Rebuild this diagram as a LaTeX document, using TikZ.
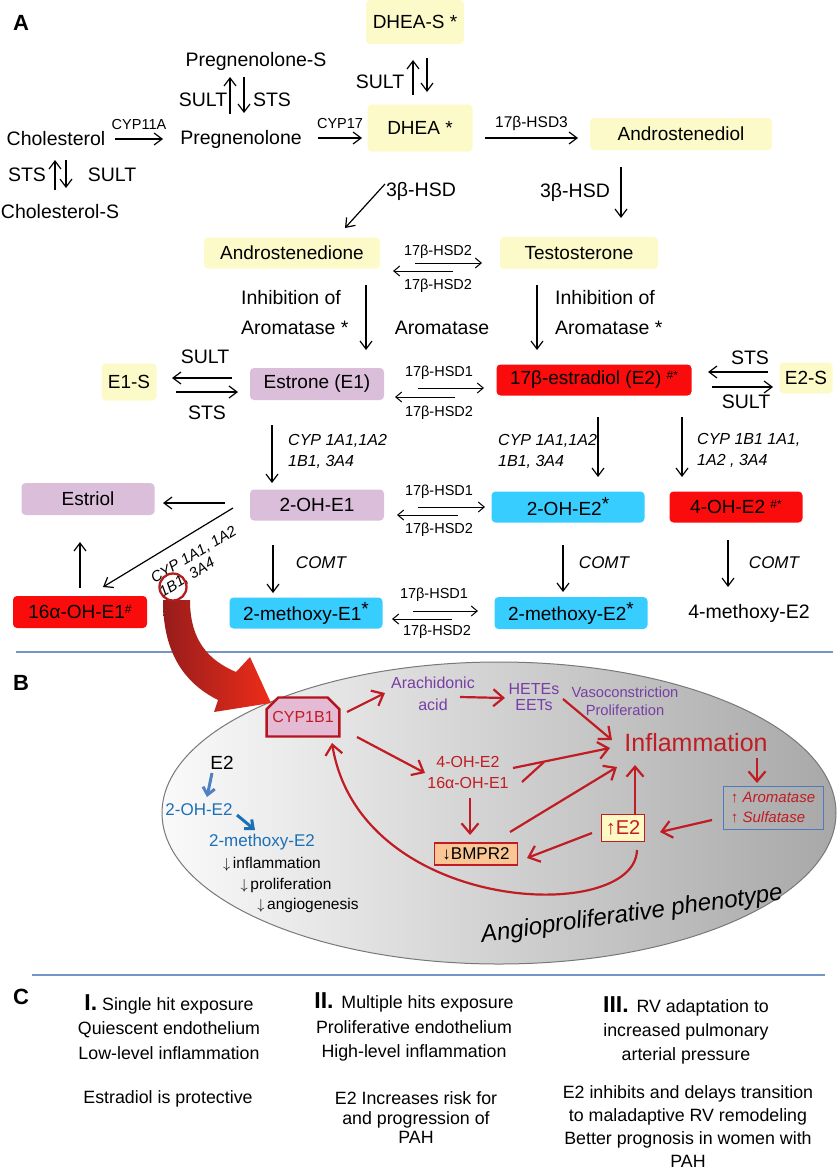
\documentclass[tikz,border=0pt]{standalone}
\usepackage{fontspec}
\setmainfont{Liberation Sans}
\usetikzlibrary{arrows.meta}
\usetikzlibrary{positioning}
\usetikzlibrary{shapes.misc}

\definecolor{ylw}{RGB}{252,250,200}
\definecolor{lav}{RGB}{218,190,218}
\definecolor{redbox}{RGB}{250,12,12}
\definecolor{cyanbox}{RGB}{55,205,255}
\definecolor{sepblue}{RGB}{115,150,195}
\definecolor{rdark}{RGB}{192,28,36}
\definecolor{ringred}{RGB}{178,30,30}
\definecolor{purp}{RGB}{120,62,165}
\definecolor{bltxt}{RGB}{28,112,182}
\definecolor{blarr}{RGB}{80,130,195}
\definecolor{cypfill}{RGB}{228,186,212}
\definecolor{cypred}{RGB}{180,20,30}
\definecolor{bmpfill}{RGB}{250,198,150}
\definecolor{e2fill}{RGB}{255,250,196}
\definecolor{arombox}{RGB}{80,122,190}
\definecolor{ellleft}{RGB}{250,250,250}
\definecolor{ellright}{RGB}{168,168,168}
\definecolor{ellgray}{RGB}{120,120,120}
\definecolor{bigdark}{RGB}{150,28,28}
\definecolor{bigbright}{RGB}{238,45,25}

\newcommand\fsz[2]{\fontsize{#1}{#2}\selectfont}
\newcommand\rnum[1]{{\fsz{23}{23}\bfseries #1}}
\newcommand\supm[1]{\raisebox{5pt}{\fsz{12}{12}#1}}

\begin{document}
\begin{tikzpicture}[x=1pt,y=-1pt,>={Straight Barb[length=8pt,width=12pt]}]
\tikzset{molbox/.style = {rounded corners=4pt, inner sep=0pt, font=\fsz{19}{23}},
  ybox/.style = {molbox, fill=ylw},
  pbox/.style = {molbox, fill=lav},
  rbox/.style = {molbox, fill=redbox},
  cbox/.style = {molbox, fill=cyanbox},
  txt/.style = {inner sep=0pt, font=\fsz{19.5}{30}, align=left},
  lbl/.style = {inner sep=0pt, font=\fsz{14.5}{17}},
  enz/.style = {inner sep=0pt, font=\fsz{16}{21}\itshape, align=left},
  panel/.style = {inner sep=0pt, font=\fsz{22}{22}\bfseries},
  arr/.style = {->, line width=1.2pt},
  harr/.style = {->, line width=1pt, >={Straight Barb[length=6pt,width=10pt]}},
  rarr/.style = {->, draw=rdark, line width=2.2pt, >={Straight Barb[length=10pt,width=17pt]}},
  barr/.style = {->, draw=blarr, line width=3pt, >={Straight Barb[length=7pt,width=12pt]}},
  sepline/.style = {draw=sepblue, line width=1.1pt},
  rtxt/.style = {inner sep=0pt, text=rdark, align=center},
  ctxt/.style = {inner sep=0pt, font=\fsz{17.8}{24.5}, align=center}}
\useasboundingbox (0,0) rectangle (837,1172);

% ---- A ----
\node[panel] (pA) at (21,23) {A};
\node[ybox, minimum width=98pt, minimum height=44pt] (dheas) at (415,22) {DHEA-S *};
\node[ybox, minimum width=105pt, minimum height=47pt] (dhea) at (420,128) {DHEA *};
\node[txt] (chol) at (56,139) {Cholesterol};
\node[txt] (preg) at (241,139) {Pregnenolone};
\node[txt] (pregs) at (256,61) {Pregnenolone-S};
\node[txt] (chols) at (60,212) {Cholesterol-S};
\node[ybox, minimum width=182pt, minimum height=32pt] (adiol) at (681,134) {Androstenediol};
\node[ybox, minimum width=176pt, minimum height=31pt] (adione) at (292,253) {Androstenedione};
\node[ybox, minimum width=158pt, minimum height=32pt] (testo) at (579,253) {Testosterone};
\node[ybox, minimum width=55pt, minimum height=37pt] (e1s) at (129,382) {E1-S};
\node[pbox, minimum width=134pt, minimum height=32pt] (estrone) at (317,384) {Estrone (E1)};
\node[rbox, minimum width=195pt, minimum height=31pt] (estra) at (594,380) {17β-estradiol (E2) \supm{\#*}};
\node[ybox, minimum width=53pt, minimum height=31pt] (e2s) at (806,378) {E2-S};
\node[pbox, minimum width=133pt, minimum height=32pt] (estriol) at (88,499) {Estriol};
\node[pbox, minimum width=134pt, minimum height=31pt] (ohe1) at (317,505) {2-OH-E1};
\node[cbox, minimum width=153pt, minimum height=31pt] (ohe2) at (568,507) {2-OH-E2\raisebox{5pt}{*}};
\node[rbox, minimum width=133pt, minimum height=31pt] (fohe2) at (736,507) {4-OH-E2 \supm{\#*}};
\node[rbox, minimum width=134pt, minimum height=32pt] (sixt) at (80,612) {16α-OH-E1\supm{\#}};
\node[cbox, minimum width=153pt, minimum height=31pt] (mee1) at (306,613) {2-methoxy-E1\raisebox{5pt}{*}};
\node[cbox, minimum width=153pt, minimum height=32pt] (mee2) at (571,613) {2-methoxy-E2\raisebox{5pt}{*}};
\node[txt] (mfe2) at (749,613) {4-methoxy-E2};

% side labels
\node[txt] (stsA) at (27,175) {STS};
\node[txt] (sultA) at (112,175) {SULT};
\node[txt] (sultB) at (203,100) {SULT};
\node[txt] (stsB) at (272,100) {STS};
\node[txt] (sultC) at (380,82) {SULT};
\node[txt] (hsdA) at (421,191) {3β-HSD};
\node[txt] (hsdB) at (575,192) {3β-HSD};
\node[txt, anchor=west] (inhA) at (241,313) {Inhibition of\\Aromatase *};
\node[txt] (aroma) at (442,328) {Aromatase};
\node[txt, anchor=west] (inhB) at (555,313) {Inhibition of\\Aromatase *};
\node[txt] (sultD) at (205,357) {SULT};
\node[txt] (stsD) at (207,413) {STS};
\node[txt] (stsE) at (750,358) {STS};
\node[txt] (sultE) at (746,402) {SULT};
\node[lbl] (h1) at (438,252) {17β-HSD2};
\node[lbl] (h2) at (438,286) {17β-HSD2};
\node[lbl] (h3) at (439,373) {17β-HSD1};
\node[lbl] (h4) at (439,413) {17β-HSD2};
\node[lbl] (h5) at (439,492) {17β-HSD1};
\node[lbl] (h6) at (439,530) {17β-HSD2};
\node[lbl] (h7) at (434,595) {17β-HSD1};
\node[lbl] (h8) at (437,632) {17β-HSD2};
\node[enz, anchor=west] (cypC) at (288,451) {CYP 1A1,1A2\\1B1, 3A4};
\node[enz, anchor=west] (cypD) at (498,451) {CYP 1A1,1A2\\1B1, 3A4};
\node[enz, anchor=west] (cypE) at (697,450) {CYP 1B1 1A1,\\1A2 , 3A4};
\node[enz, font=\fsz{15}{16}\itshape, rotate=31] (cypF) at (198,562) {CYP 1A1, 1A2\\1B1, 3A4};
\node[enz, font=\fsz{17}{20}\itshape] (comtA) at (321,563) {COMT};
\node[enz, font=\fsz{17}{20}\itshape] (comtB) at (604,563) {COMT};
\node[enz, font=\fsz{17}{20}\itshape] (comtC) at (774,563) {COMT};

\draw[arr] ([shift={(59,0)}]chol.center) -- node[lbl, above=9pt] (cypA) {CYP11A} ([shift={(-78,0)}]preg.center);
\draw[arr] ([shift={(77,-1)}]preg.center) -- node[lbl, above=9pt] (cypB) {CYP17} ([shift={(-58,10)}]dhea.center);
\draw[arr] ([shift={(-5,-22)}]chols.center) -- ([shift={(-1,21)}]chol.center);
\draw[arr] ([shift={(10,21)}]chol.center) -- ([shift={(6,-24)}]chols.center);
\draw[arr] ([shift={(-11,-25)}]preg.center) -- ([shift={(-26,16)}]pregs.center);
\draw[arr] ([shift={(-12,16)}]pregs.center) -- ([shift={(3,-26)}]preg.center);
\draw[arr] ([shift={(-7,-33)}]dhea.center) -- ([shift={(-2,38)}]dheas.center);
\draw[arr] ([shift={(12,36)}]dheas.center) -- ([shift={(7,-36)}]dhea.center);
\draw[arr] ([shift={(65,10)}]dhea.center) -- node[lbl, font=\fsz{15.5}{17}, above=7pt] (hsdC) {17β-HSD3} ([shift={(-103,4)}]adiol.center);
\draw[arr] ([shift={(-35,56)}]dhea.center) -- ([shift={(53,-25)}]adione.center);
\draw[arr] ([shift={(-60,33)}]adiol.center) -- ([shift={(42,-35)}]testo.center);
\draw[harr] ([shift={(123,10)}]adione.center) -- ([shift={(-97,10)}]testo.center);
\draw[harr] ([shift={(-126,18)}]testo.center) -- ([shift={(101,18)}]adione.center);
\draw[arr] ([shift={(74,32)}]adione.center) -- ([shift={(49,-34)}]estrone.center);
\draw[arr] ([shift={(-42,32)}]testo.center) -- ([shift={(-57,-30)}]estra.center);
\draw[arr] ([shift={(-85,-6)}]estrone.center) -- ([shift={(43,-4)}]e1s.center);
\draw[arr] ([shift={(47,10)}]e1s.center) -- ([shift={(-79,8)}]estrone.center);
\draw[harr] ([shift={(101,4)}]estrone.center) -- ([shift={(-110,8)}]estra.center);
\draw[harr] ([shift={(-139,17)}]estra.center) -- ([shift={(78,13)}]estrone.center);
\draw[arr] ([shift={(-38,-6)}]e2s.center) -- ([shift={(114,-8)}]estra.center);
\draw[arr] ([shift={(118,7)}]estra.center) -- ([shift={(-33,9)}]e2s.center);
\draw[arr] ([shift={(-45,41)}]estrone.center) -- ([shift={(-45,-22)}]ohe1.center);
\draw[arr] ([shift={(4,37)}]estra.center) -- ([shift={(30,-30)}]ohe2.center);
\draw[arr] ([shift={(88,37)}]estra.center) -- ([shift={(-54,-30)}]fohe2.center);
\draw[arr] ([shift={(-92,-2)}]ohe1.center) -- ([shift={(75,4)}]estriol.center);
\draw[arr] ([shift={(-84,3)}]ohe1.center) -- ([shift={(23,-25)}]sixt.center);
\draw[arr] ([shift={(0,-24)}]sixt.center) -- ([shift={(-8,43)}]estriol.center);
\draw[harr] ([shift={(101,2)}]ohe1.center) -- ([shift={(-83,0)}]ohe2.center);
\draw[harr] ([shift={(-110,8)}]ohe2.center) -- ([shift={(80,10)}]ohe1.center);
\draw[arr] ([shift={(-44,40)}]ohe1.center) -- ([shift={(-33,-20)}]mee1.center);
\draw[arr] ([shift={(-5,38)}]ohe2.center) -- ([shift={(-8,-21)}]mee2.center);
\draw[arr] ([shift={(-8,33)}]fohe2.center) -- ([shift={(-21,-26)}]mfe2.center);
\draw[harr] ([shift={(107,-2)}]mee1.center) -- ([shift={(-93,-2)}]mee2.center);
\draw[harr] ([shift={(-119,6)}]mee2.center) -- ([shift={(86,6)}]mee1.center);

\draw[sepline] (16,652) -- (833,652);

% ---- B ----
\node[panel] (pB) at (21,683) {B};
\path[draw=ellgray, line width=1pt, left color=ellleft, right color=ellright] (499,813) ellipse [x radius=337pt, y radius=151pt];
% big arrow from the circled 1B1
\path[left color=bigdark, right color=bigbright] (163,600) .. controls (163,650) and (182,682) .. (218,700) -- (214,712) -- (271,703) -- (250,657) -- (236,672) .. controls (208,660) and (190,640) .. (190,600) -- cycle;
\node[draw=ringred, line width=2.3pt, circle, minimum size=27pt, inner sep=0pt] (ring) at (173,587) {};

\node[chamfered rectangle, chamfered rectangle corners={north west,north east}, chamfered rectangle xsep=6pt, chamfered rectangle ysep=6pt,
  minimum width=70pt, minimum height=39pt, inner sep=0pt, fill=cypfill, draw=cypred, line width=2.4pt, text=rdark, font=\fsz{16}{18}] (cyp) at (303,717) {CYP1B1};
\node[inner sep=0pt, text=purp, align=center, font=\fsz{16}{22}] (arach) at (433,694) {Arachidonic\\acid};
\node[inner sep=0pt, text=purp, align=center, font=\fsz{16}{16}] (hetes) at (534,697) {HETEs\\EETs};
\node[inner sep=0pt, text=purp, align=center, font=\fsz{14.7}{18}] (vaso) at (625,701) {Vasoconstriction\\Proliferation};
\node[rtxt, font=\fsz{25}{25}] (infl) at (696,743) {Inflammation};
\node[rtxt, font=\fsz{16}{21}] (ohs) at (468,772) {4-OH-E2\\16α-OH-E1};
\node[draw=rdark, line width=1.2pt, fill=bmpfill, inner sep=0pt, minimum width=83pt, minimum height=22pt, font=\fsz{17}{17}] (bmpr) at (476,854) {↓BMPR2};
\node[draw=rdark, line width=1.2pt, fill=e2fill, inner sep=0pt, minimum width=43pt, minimum height=27pt, text=rdark, font=\fsz{20}{20}] (e2up) at (623,828) {↑E2};
\node[draw=arombox, line width=1pt, inner sep=0pt, minimum width=100pt, minimum height=43pt, text=rdark, align=left, font=\fsz{15}{20}] (arom) at (773,808) {↑ \textit{Aromatase}\\↑ \textit{Sulfatase}};
\node[inner sep=0pt, font=\fsz{19}{19}] (e2b) at (222,763) {E2};
\node[inner sep=0pt, text=bltxt, font=\fsz{17}{17}] (ohb) at (199,810) {2-OH-E2};
\node[inner sep=0pt, text=bltxt, font=\fsz{17}{17}] (meb) at (262,842) {2-methoxy-E2};
\node[inner sep=0pt, font=\fsz{15.5}{17}] (dn1) at (272,864) {$\downarrow$\,inflammation};
\node[inner sep=0pt, font=\fsz{15.5}{17}] (dn2) at (286,885) {$\downarrow$\,proliferation};
\node[inner sep=0pt, font=\fsz{15.5}{17}] (dn3) at (308,905) {$\downarrow$\,angiogenesis};
\node[inner sep=0pt, rotate=8, font=\fsz{24}{24}\itshape] (pheno) at (632,915) {Angioproliferative phenotype};

\draw[rarr] ([shift={(44,-5)}]cyp.center) -- ([shift={(-48,-1)}]arach.center);
\draw[rarr] ([shift={(27,3)}]arach.center) -- ([shift={(-29,1)}]hetes.center);
\draw[rarr] ([shift={(29,2)}]hetes.center) -- ([shift={(-84,-3)}]infl.center);
\draw[rarr] ([shift={(54,20)}]cyp.center) -- ([shift={(-43,1)}]ohs.center);
\draw[rarr] ([shift={(45,-4)}]ohs.center) -- ([shift={(-86,5)}]infl.center);
\draw[draw=rdark, line width=2.2pt] ([shift={(54,10)}]ohs.center) -- ([shift={(76,-10)}]ohs.center);
\draw[rarr] ([shift={(2,26)}]ohs.center) -- ([shift={(-6,-19)}]bmpr.center);
\draw[rarr] ([shift={(34,-22)}]bmpr.center) -- ([shift={(-79,24)}]infl.center);
\draw[rarr] ([shift={(12,-13)}]e2up.center) -- ([shift={(-61,22)}]infl.center);
\draw[rarr] ([shift={(-31,5)}]e2up.center) -- ([shift={(51,4)}]bmpr.center);
\draw[rarr] ([shift={(61,15)}]infl.center) -- ([shift={(-16,-25)}]arom.center);
\draw[rarr] ([shift={(-61,12)}]arom.center) -- ([shift={(37,4)}]e2up.center);
\draw[rarr] ([shift={(14,22)}]e2up.center) .. controls +(-2,75) and +(28,172) .. ([shift={(29,26)}]cyp.center);
\draw[barr] ([shift={(-10,10)}]e2b.center) -- ([shift={(8,-13)}]ohb.center);
\draw[barr, draw=bltxt] ([shift={(38,5)}]ohb.center) -- ([shift={(-7,-12)}]meb.center);

\draw[sepline] (32,975) -- (825,975);

% ---- C ----
\node[panel] (pC) at (21,997) {C};
\node[ctxt] (c1a) at (169,1027) {\rnum{I.} Single hit exposure\\Quiescent endothelium\\Low-level inflammation};
\node[ctxt] (c1b) at (168,1099) {Estradiol is protective};
\node[ctxt] (c2a) at (414,1027) {\rnum{II.} \,Multiple hits exposure\\Proliferative endothelium\\High-level inflammation};
\node[ctxt, font=\fsz{17.8}{19.5}] (c2b) at (416,1118) {E2 Increases risk for\\and progression of\\PAH};
\node[ctxt, font=\fsz{17.8}{24}] (c3a) at (686,1030) {\rnum{III.} \,RV adaptation to\\increased pulmonary\\arterial pressure};
\node[ctxt, font=\fsz{17.8}{23}] (c3b) at (688,1127) {E2 inhibits and delays transition\\to maladaptive RV remodeling\\Better prognosis in women with\\PAH};
\end{tikzpicture}
\end{document}
